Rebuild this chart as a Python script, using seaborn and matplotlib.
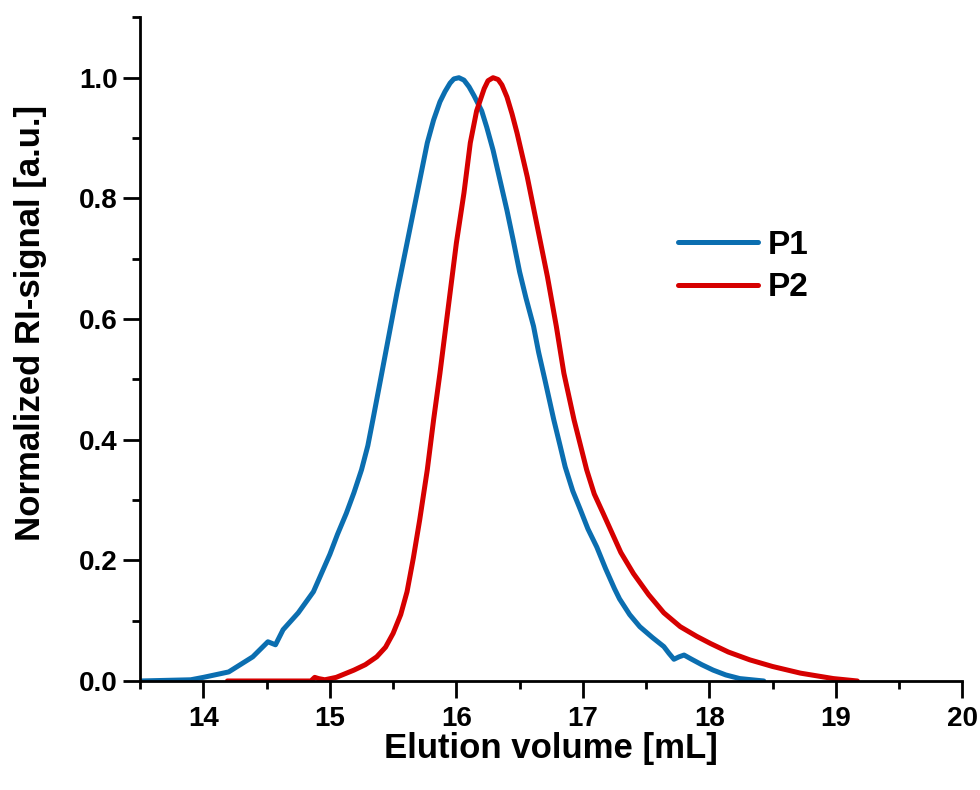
import numpy as np
import pandas as pd
import matplotlib
matplotlib.use("Agg")
import matplotlib.pyplot as plt
import seaborn as sns
from matplotlib.ticker import MultipleLocator

# ---- data ----
p1_x = [13.50, 13.90, 14.00, 14.20, 14.39, 14.51, 14.57, 14.63, 14.75, 14.87,
        15.00, 15.06, 15.13, 15.19, 15.25, 15.30, 15.34, 15.40, 15.53, 15.61,
        15.69, 15.77, 15.82, 15.87, 15.91, 15.95, 15.98, 16.02, 16.06, 16.10,
        16.14, 16.20, 16.24, 16.29, 16.40, 16.45, 16.50, 16.55, 16.61, 16.65,
        16.70, 16.77, 16.82, 16.86, 16.92, 16.98, 17.04, 17.11, 17.18, 17.25,
        17.29, 17.37, 17.45, 17.55, 17.64, 17.68, 17.72, 17.76, 17.80, 17.86,
        17.94, 18.03, 18.13, 18.24, 18.43]
p1_y = [0.000, 0.002, 0.006, 0.015, 0.040, 0.065, 0.060, 0.085, 0.113, 0.148,
        0.210, 0.243, 0.278, 0.312, 0.350, 0.390, 0.433, 0.499, 0.643, 0.726,
        0.809, 0.892, 0.930, 0.960, 0.977, 0.991, 0.998, 1.000, 0.996, 0.985,
        0.970, 0.945, 0.918, 0.880, 0.780, 0.730, 0.678, 0.635, 0.588, 0.545,
        0.499, 0.433, 0.390, 0.355, 0.315, 0.284, 0.252, 0.222, 0.186, 0.153,
        0.136, 0.110, 0.090, 0.072, 0.057, 0.046, 0.036, 0.040, 0.043, 0.036,
        0.027, 0.018, 0.010, 0.004, 0.000]

p2_x = [14.19, 14.85, 14.88, 14.91, 14.96, 15.05, 15.19, 15.28, 15.37, 15.44,
        15.50, 15.56, 15.61, 15.66, 15.71, 15.77, 15.82, 15.87, 15.90, 15.95,
        16.00, 16.06, 16.11, 16.16, 16.22, 16.25, 16.29, 16.33, 16.36, 16.40,
        16.44, 16.48, 16.56, 16.64, 16.72, 16.79, 16.85, 16.93, 17.03, 17.09,
        17.16, 17.30, 17.40, 17.52, 17.64, 17.77, 17.90, 18.01, 18.15, 18.32,
        18.50, 18.72, 18.98, 19.17]
p2_y = [0.000, 0.000, 0.006, 0.004, 0.002, 0.006, 0.018, 0.027, 0.040, 0.056,
        0.079, 0.110, 0.148, 0.204, 0.267, 0.350, 0.433, 0.510, 0.560, 0.643,
        0.726, 0.809, 0.892, 0.945, 0.982, 0.995, 1.000, 0.997, 0.988, 0.968,
        0.940, 0.908, 0.836, 0.753, 0.670, 0.588, 0.510, 0.433, 0.350, 0.310,
        0.278, 0.213, 0.178, 0.143, 0.113, 0.090, 0.074, 0.062, 0.048, 0.035,
        0.024, 0.013, 0.004, 0.000]

labels = ["P1", "P2"]
colors = ["#0b6eb0", "#d60000"]

df = pd.concat([
    pd.DataFrame({"x": p1_x, "y": p1_y, "Sample": labels[0]}),
    pd.DataFrame({"x": p2_x, "y": p2_y, "Sample": labels[1]}),
], ignore_index=True)

sns.set_theme(style="ticks")
plt.rcParams["font.family"] = ["Liberation Sans", "DejaVu Sans"]
plt.rcParams["font.weight"] = "bold"
plt.rcParams["text.color"] = "black"

fig = plt.figure(figsize=(9.8, 7.9), dpi=100)
ax = fig.add_axes([0.143, 0.138, 0.839, 0.84])

sns.lineplot(data=df, x="x", y="y", hue="Sample", palette=dict(zip(labels, colors)),
             linewidth=3.6, sort=False, estimator=None, ax=ax)

ax.set_xlim(13.5, 20)
ax.set_ylim(0, 1.1)
ax.set_xticks([14, 15, 16, 17, 18, 19, 20])
ax.set_yticks([0.0, 0.2, 0.4, 0.6, 0.8, 1.0])
ax.set_yticklabels(["0.0", "0.2", "0.4", "0.6", "0.8", "1.0"])
ax.xaxis.set_minor_locator(MultipleLocator(0.5))
ax.yaxis.set_minor_locator(MultipleLocator(0.1))

for s in ["top", "right"]:
    ax.spines[s].set_visible(False)
for s in ["left", "bottom"]:
    ax.spines[s].set_linewidth(2)
    ax.spines[s].set_color("black")

ax.tick_params(which="major", direction="out", length=12, width=2, color="black",
               labelsize=20, labelcolor="black")
ax.tick_params(axis="x", which="major", pad=6)
ax.tick_params(axis="y", which="major", pad=4)
ax.tick_params(which="minor", direction="out", length=6, width=2, color="black")
for lab in ax.get_xticklabels() + ax.get_yticklabels():
    lab.set_fontweight("bold")

ax.set_xlabel("Elution volume [mL]", fontsize=25, fontweight="bold", color="black")
ax.set_ylabel("Normalized RI-signal [a.u.]", fontsize=25, fontweight="bold", color="black")
ax.xaxis.set_label_coords(0.5, -0.077)
ax.yaxis.set_label_coords(-0.113, 0.54)

handles, _ = ax.get_legend_handles_labels()
leg = ax.legend(handles=handles[-2:], labels=labels, loc="center left",
                bbox_to_anchor=(0.6176, 0.6245), frameon=False,
                handlelength=2.4, handletextpad=0.3, labelspacing=0.35,
                prop={"size": 24, "weight": "bold"})
for line in leg.get_lines():
    line.set_linewidth(3.6)
for t in leg.get_texts():
    t.set_color("black")

fig.savefig("out.png", dpi=100)
